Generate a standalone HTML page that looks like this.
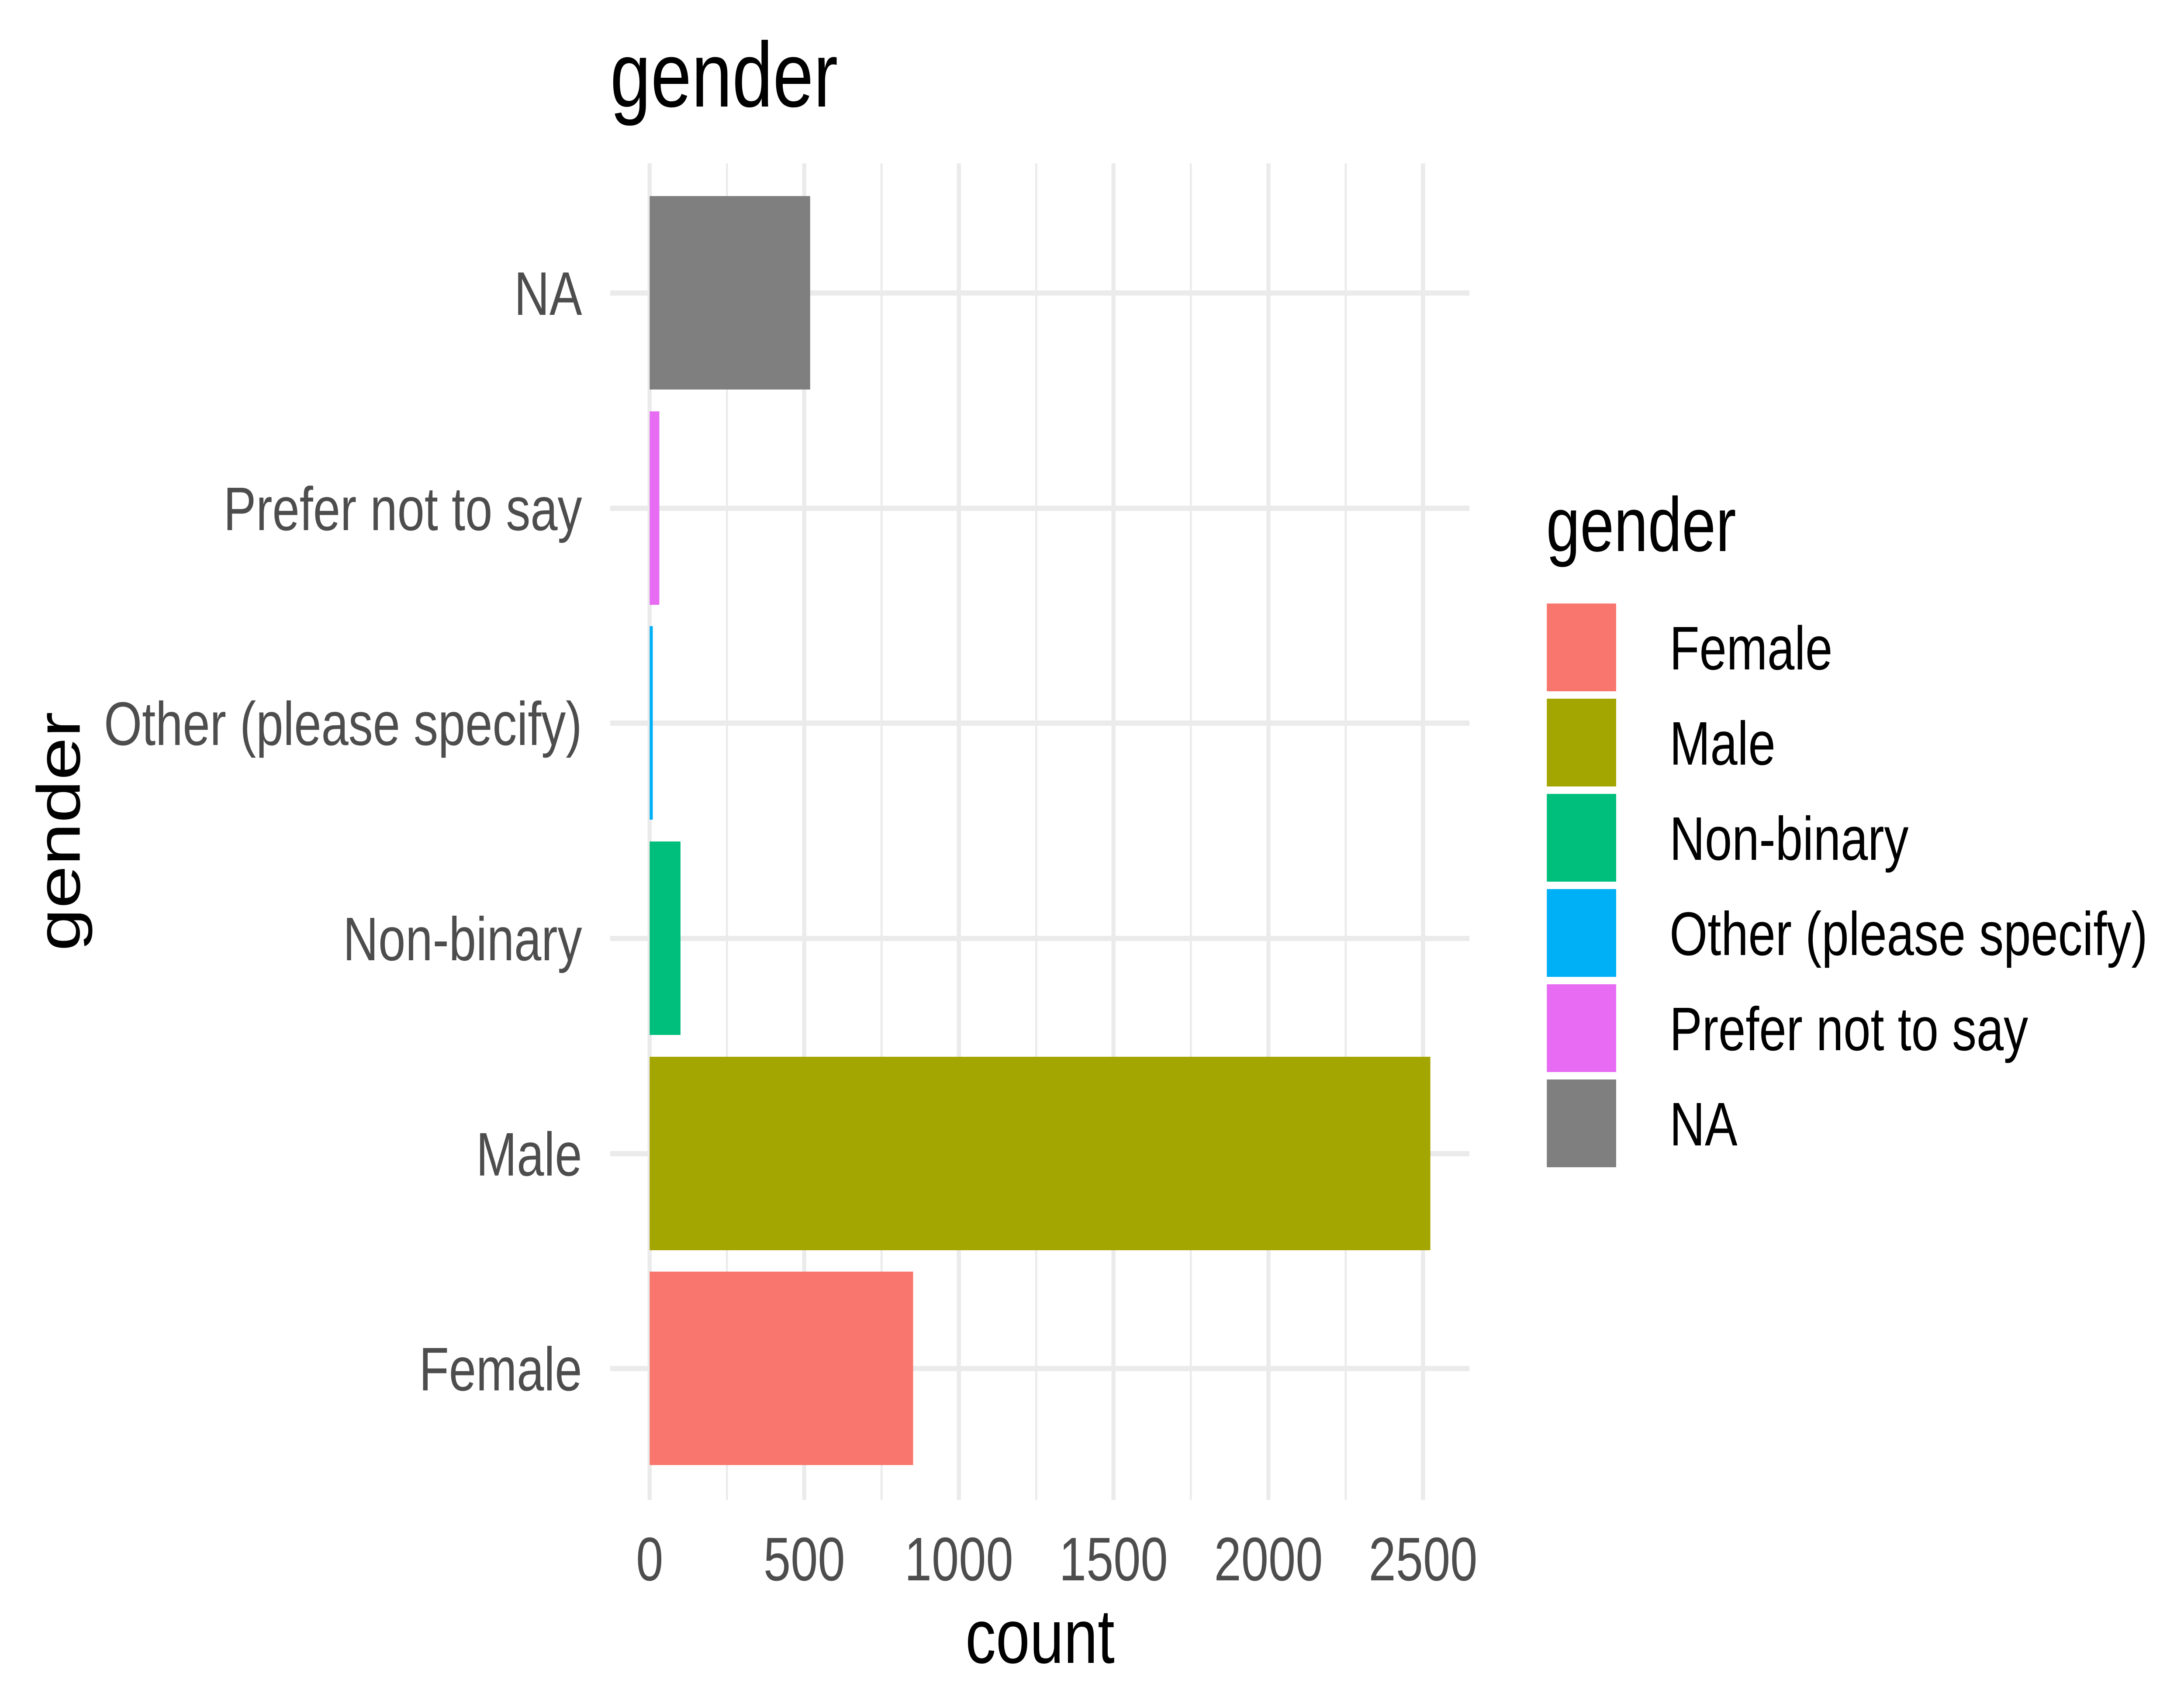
<!DOCTYPE html>
<html><head><meta charset="utf-8"><style>html,body{margin:0;padding:0;background:#fff;overflow:hidden;width:100%;height:100%}svg{display:block;width:100vw;height:100vh}</style></head><body>
<svg viewBox="0 0 6300 3893" preserveAspectRatio="none" xmlns="http://www.w3.org/2000/svg" font-family="Liberation Sans, Arial, sans-serif">
<rect width="6300" height="3893" fill="#fff"/>
<g stroke="#EBEBEB" stroke-width="6">
<line x1="2097" y1="374" x2="2097" y2="3435"/>
<line x1="2543" y1="374" x2="2543" y2="3435"/>
<line x1="2989" y1="374" x2="2989" y2="3435"/>
<line x1="3435" y1="374" x2="3435" y2="3435"/>
<line x1="3882" y1="374" x2="3882" y2="3435"/>
</g>
<g stroke="#EBEBEB" stroke-width="12">
<line x1="1874" y1="374" x2="1874" y2="3435"/>
<line x1="2320" y1="374" x2="2320" y2="3435"/>
<line x1="2766" y1="374" x2="2766" y2="3435"/>
<line x1="3212" y1="374" x2="3212" y2="3435"/>
<line x1="3659" y1="374" x2="3659" y2="3435"/>
<line x1="4105" y1="374" x2="4105" y2="3435"/>
<line x1="1760" y1="671" x2="4239" y2="671"/>
<line x1="1760" y1="1164" x2="4239" y2="1164"/>
<line x1="1760" y1="1656" x2="4239" y2="1656"/>
<line x1="1760" y1="2149" x2="4239" y2="2149"/>
<line x1="1760" y1="2642" x2="4239" y2="2642"/>
<line x1="1760" y1="3134" x2="4239" y2="3134"/>
</g>
<rect x="1874" y="449" width="463" height="443" fill="#7F7F7F"/>
<rect x="1874" y="942" width="28" height="443" fill="#E76BF3"/>
<rect x="1874" y="1434" width="9" height="443" fill="#00B0F6"/>
<rect x="1874" y="1927" width="89" height="443" fill="#00BF7D"/>
<rect x="1874" y="2420" width="2252" height="443" fill="#A3A500"/>
<rect x="1874" y="2912" width="760" height="443" fill="#F8766D"/>
<g fill="#4D4D4D" font-size="141" text-anchor="end">
<text x="1679" y="721">NA</text>
<text x="1679" y="1214">Prefer not to say</text>
<text x="1679" y="1706">Other (please specify)</text>
<text x="1679" y="2199">Non-binary</text>
<text x="1679" y="2692">Male</text>
<text x="1679" y="3184">Female</text>
</g>
<g fill="#4D4D4D" font-size="141" text-anchor="middle">
<text x="1874" y="3619">0</text>
<text x="2320" y="3619">500</text>
<text x="2766" y="3619">1000</text>
<text x="3212" y="3619">1500</text>
<text x="3659" y="3619">2000</text>
<text x="4105" y="3619">2500</text>
</g>
<text x="3000" y="3808" font-size="176" text-anchor="middle" fill="#000">count</text>
<text transform="translate(230,1904) rotate(-90)" font-size="176" text-anchor="middle" fill="#000">gender</text>
<text x="1760" y="244" font-size="211" fill="#000">gender</text>
<text x="4460" y="1262" font-size="176" fill="#000">gender</text>
<rect x="4462" y="1382" width="200" height="201" fill="#F8766D"/>
<rect x="4462" y="1600" width="200" height="201" fill="#A3A500"/>
<rect x="4462" y="1818" width="200" height="201" fill="#00BF7D"/>
<rect x="4462" y="2036" width="200" height="201" fill="#00B0F6"/>
<rect x="4462" y="2254" width="200" height="201" fill="#E76BF3"/>
<rect x="4462" y="2472" width="200" height="201" fill="#7F7F7F"/>
<g fill="#000" font-size="141">
<text x="4816" y="1533">Female</text>
<text x="4816" y="1751">Male</text>
<text x="4816" y="1969">Non-binary</text>
<text x="4816" y="2187">Other (please specify)</text>
<text x="4816" y="2405">Prefer not to say</text>
<text x="4816" y="2623">NA</text>
</g>
</svg>
</body></html>
